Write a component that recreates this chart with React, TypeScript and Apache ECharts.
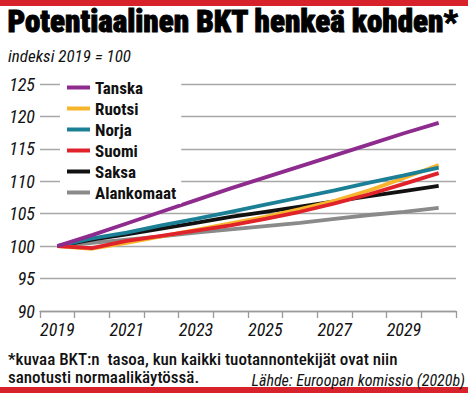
import React, { useEffect, useRef } from "react";
import * as echarts from "echarts";

const years = ["2019", "2020", "2021", "2022", "2023", "2024", "2025", "2026", "2027", "2028", "2029", "2030"];
const tanska = [100, 101.7, 103.5, 105.3, 107.1, 108.9, 110.6, 112.3, 114.0, 115.7, 117.4, 119.0];
const ruotsi = [100, 99.6, 100.5, 101.5, 102.5, 103.5, 104.5, 105.7, 107.0, 108.6, 110.5, 112.5];
const norja = [100, 101.2, 102.1, 103.2, 104.2, 105.3, 106.4, 107.5, 108.6, 109.8, 110.9, 112.1];
const suomi = [100, 99.7, 100.8, 101.6, 102.4, 103.2, 104.2, 105.3, 106.6, 108.0, 109.6, 111.25];
const saksa = [100, 101.0, 101.8, 102.7, 103.6, 104.5, 105.3, 106.1, 106.9, 107.7, 108.5, 109.3];
const alankomaat = [100, 100.5, 101.0, 101.5, 102.1, 102.6, 103.1, 103.6, 104.2, 104.8, 105.3, 105.9];

const seriesNames = ["Tanska", "Ruotsi", "Norja", "Suomi", "Saksa", "Alankomaat"];
const seriesColors = ["#8e2b8e", "#f7b52c", "#1b7f96", "#e0232a", "#111111", "#8a8a8a"];
const seriesData = [tanska, ruotsi, norja, suomi, saksa, alankomaat];
const drawOrder = [5, 4, 1, 2, 3, 0];

const title = "Potentiaalinen BKT henkeä kohden*";
const subtitle = "indeksi 2019 = 100";
const note1 = "*kuvaa BKT:n  tasoa, kun kaikki tuotannontekijät ovat niin";
const note2 = "sanotusti normaalikäytössä.";
const source = "Lähde: Euroopan komissio (2020b)";

const RC = "'Roboto Condensed', sans-serif";

export default function App() {
  const ref = useRef<HTMLDivElement>(null);
  useEffect(() => {
    if (!ref.current) return;
    const chart = echarts.init(ref.current, null, { renderer: "svg" });
    chart.setOption({
      animation: false,
      backgroundColor: "#fff",
      grid: { left: 40, right: 12, top: 84, bottom: 82, containLabel: false },
      xAxis: {
        type: "category",
        data: years,
        boundaryGap: true,
        axisLine: { lineStyle: { color: "#9a9a9a", width: 1.3 } },
        axisTick: { show: true, interval: 0, length: 7, lineStyle: { color: "#9a9a9a", width: 1.3 } },
        axisLabel: {
          interval: 1,
          fontFamily: RC,
          fontStyle: "italic",
          fontWeight: "normal",
          fontSize: 18,
          color: "#111",
          margin: 9,
        },
      },
      yAxis: {
        type: "value",
        min: 90,
        max: 125,
        interval: 5,
        axisLine: { show: false },
        axisTick: { show: false },
        splitLine: { lineStyle: { color: "#a8a8a8", width: 1.3 } },
        axisLabel: {
          fontFamily: RC,
          fontStyle: "italic",
          fontWeight: "normal",
          fontSize: 18,
          color: "#111",
          margin: 5,
        },
      },
      legend: {
        data: seriesNames,
        orient: "vertical",
        left: 60,
        top: 76,
        padding: [3, 5, 3, 7],
        backgroundColor: "#fff",
        itemWidth: 23,
        itemHeight: 4,
        itemGap: 4,
        icon: "rect",
        textStyle: {
          fontFamily: RC,
          fontWeight: "bold",
          fontSize: 17,
          color: "#111",
          lineHeight: 16,
        },
      },
      series: drawOrder.map((i) => ({
        name: seriesNames[i],
        type: "line",
        data: seriesData[i],
        symbol: "none",
        lineStyle: { color: seriesColors[i], width: 3.8 },
        itemStyle: { color: seriesColors[i] },
        z: 2,
      })),
      graphic: [
        { type: "rect", left: 0, top: 0, shape: { width: 468, height: 6 }, style: { fill: "#d7212b" } },
        { type: "rect", left: 0, top: 387, shape: { width: 468, height: 6 }, style: { fill: "#d7212b" } },
        {
          type: "text",
          left: 7,
          top: 6,
          style: { text: title, font: `900 31px ${RC}`, fill: "#000", stroke: "#000", lineWidth: 0.9 },
        },
        {
          type: "text",
          left: 8,
          top: 47,
          style: { text: subtitle, font: `italic 17px ${RC}`, fill: "#111" },
        },
        {
          type: "text",
          left: 8,
          top: 350,
          style: { text: note1, font: `500 17px ${RC}`, fill: "#111" },
        },
        {
          type: "text",
          left: 8,
          top: 368,
          style: { text: note2, font: `500 17px ${RC}`, fill: "#111" },
        },
        {
          type: "text",
          right: 3,
          top: 372,
          style: { text: source, font: `italic 16px ${RC}`, fill: "#111" },
        },
      ],
    });
    return () => chart.dispose();
  }, []);
  return <div ref={ref} style={{ width: 468, height: 393, position: "absolute", left: 0, top: 0 }} />;
}
